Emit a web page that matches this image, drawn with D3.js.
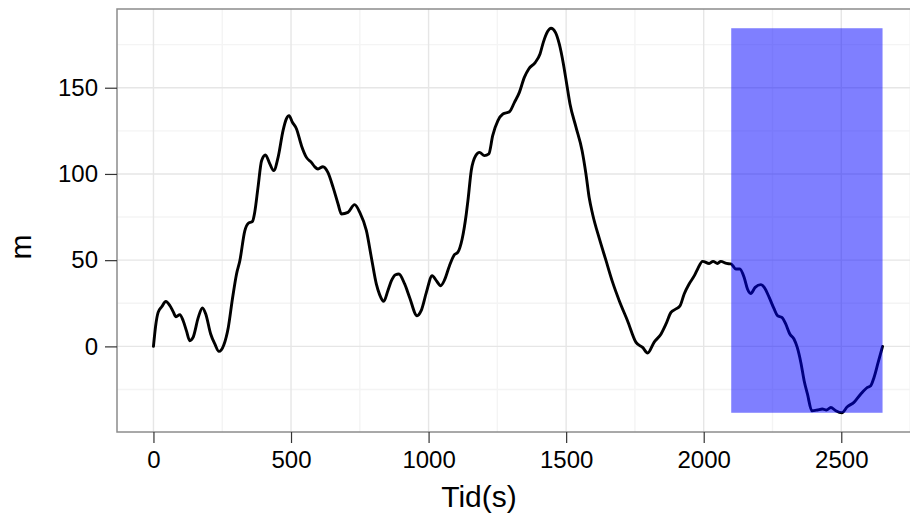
<!DOCTYPE html>
<html>
<head>
<meta charset="utf-8">
<script src="https://cdn.jsdelivr.net/npm/d3@7/dist/d3.min.js"></script>
<style>
  html, body { margin: 0; padding: 0; background: #fff; }
  svg { display: block; font-family: "Liberation Sans", Arial, Helvetica, sans-serif; }
</style>
</head>
<body>
<svg id="chart" width="910" height="518"></svg>
<script>
// Elevation profile: time in seconds vs height in metres
const tid = [
  0, 8, 17, 30, 45, 60, 72, 82, 96, 108, 120, 132, 144, 163, 178, 190, 208, 223, 238, 256,
  272, 287, 302, 314, 332, 344, 360, 368, 380, 393, 407, 423, 437, 453, 471, 483, 493, 505, 520, 538,
  556, 574, 586, 598, 616, 634, 653, 671, 683, 707, 731, 750, 774, 792, 810, 822, 837, 852, 865, 880,
  892, 913, 931, 958, 973, 992, 1013, 1028, 1044, 1058, 1076, 1094, 1106, 1122, 1137, 1143, 1155, 1171, 1185, 1203,
  1219, 1233, 1252, 1270, 1294, 1312, 1330, 1348, 1364, 1388, 1405, 1417, 1433, 1445, 1461, 1475, 1490, 1502, 1514, 1536,
  1558, 1572, 1584, 1596, 1621, 1645, 1669, 1693, 1723, 1754, 1778, 1796, 1820, 1845, 1863, 1881, 1899, 1914, 1929, 1947,
  1966, 1978, 1996, 2020, 2034, 2050, 2062, 2083, 2099, 2117, 2131, 2147, 2159, 2171, 2187, 2208, 2220, 2238, 2256, 2268,
  2284, 2298, 2313, 2328, 2340, 2353, 2365, 2377, 2393, 2413, 2431, 2446, 2462, 2480, 2502, 2522, 2546, 2571, 2595, 2607,
  2619, 2634, 2650
];
const meter = [
  0, 12, 19.7, 23, 26, 23.6, 20, 17.2, 18.4, 14.9, 9, 3.3, 5.2, 16.8, 22.3, 18.8, 7.2, 1.4, -2.9, 1,
  11, 27.5, 42, 49.7, 67, 71.3, 72.5, 77.7, 92.2, 107.7, 111, 105.8, 101.9, 109.6, 125.1, 131.9, 133.8, 130, 126.1, 116.4,
  109.6, 106.7, 104.2, 102.9, 104.2, 100.9, 92.2, 82.6, 76.8, 77.7, 82.2, 77.7, 67.1, 51.6, 36.2, 30, 26.1, 32.3, 38.1, 41.5,
  42, 36.2, 28.4, 17.8, 20.7, 31.3, 41, 38.1, 35.2, 38.5, 46.8, 53.2, 54.5, 62.3, 76.8, 84.5, 101.9, 110.6, 112.5, 110.6,
  111.6, 122.2, 130.9, 134.8, 136.1, 141.5, 147.3, 156, 160.9, 164.7, 169.6, 176.3, 182.7, 184.5, 182.1, 175.4, 163.8, 152.2, 140.6, 127,
  113.5, 100, 86, 76.8, 62.3, 49.7, 37.1, 26.5, 14.9, 2.3, -0.6, -3.8, 2.5, 7.2, 13, 19.7, 21.7, 23.6, 30.4, 36.2,
  41, 44.9, 49.3, 48.1, 49.3, 48.1, 49.3, 48.1, 47.8, 44.9, 44.9, 40, 33.3, 30.7, 34.2, 35.8, 34.2, 28.4, 21.7, 17.8,
  16.8, 13, 7.2, 4.3, -0.6, -9.3, -19.9, -27.6, -37.3, -36.9, -36.3, -36.9, -35.4, -37.3, -38.5, -35, -32.5, -27.6, -23.8, -22.8,
  -18, -9.3, 0
];
// Highlighted time window (seconds)
const highlight = [2100, 2650];
const xTicks = [0, 500, 1000, 1500, 2000, 2500];
const xMinor = [250, 750, 1250, 1750, 2250, 2750];
const yTicks = [0, 50, 100, 150];
const yMinor = [-25, 25, 75, 125, 175];

const data = tid.map((t, i) => ({ t, m: meter[i] }));

const svg = d3.select("#chart");
const panel = { left: 117, right: 919, top: 9, bottom: 432 };

// ggplot-style 5% expansion of the data range
const xExt = d3.extent(tid);
const yExt = d3.extent(meter);
const xPad = (xExt[1] - xExt[0]) * 0.05;
const yPad = (yExt[1] - yExt[0]) * 0.05;

const x = d3.scaleLinear().domain([xExt[0] - xPad, xExt[1] + xPad]).range([panel.left, panel.right]);
const y = d3.scaleLinear().domain([yExt[0] - yPad, yExt[1] + yPad]).range([panel.bottom, panel.top]);

svg.append("defs").append("clipPath").attr("id", "panel-clip")
  .append("rect")
  .attr("x", panel.left).attr("y", panel.top)
  .attr("width", panel.right - panel.left).attr("height", panel.bottom - panel.top);

const g = svg.append("g").attr("clip-path", "url(#panel-clip)");

// panel background
g.append("rect")
  .attr("x", panel.left).attr("y", panel.top)
  .attr("width", panel.right - panel.left).attr("height", panel.bottom - panel.top)
  .attr("fill", "#ffffff");

// minor grid
g.selectAll(".xminor").data(xMinor).join("line")
  .attr("x1", d => x(d)).attr("x2", d => x(d))
  .attr("y1", panel.top).attr("y2", panel.bottom)
  .attr("stroke", "#f4f4f4").attr("stroke-width", 1.4);
g.selectAll(".yminor").data(yMinor).join("line")
  .attr("y1", d => y(d)).attr("y2", d => y(d))
  .attr("x1", panel.left).attr("x2", panel.right)
  .attr("stroke", "#f4f4f4").attr("stroke-width", 1.4);

// major grid
g.selectAll(".xmajor").data(xTicks).join("line")
  .attr("x1", d => x(d)).attr("x2", d => x(d))
  .attr("y1", panel.top).attr("y2", panel.bottom)
  .attr("stroke", "#e6e6e6").attr("stroke-width", 1.4);
g.selectAll(".ymajor").data(yTicks).join("line")
  .attr("y1", d => y(d)).attr("y2", d => y(d))
  .attr("x1", panel.left).attr("x2", panel.right)
  .attr("stroke", "#e6e6e6").attr("stroke-width", 1.4);

// elevation line
const line = d3.line()
  .x(d => x(d.t))
  .y(d => y(d.m))
  .curve(d3.curveMonotoneX);

g.append("path")
  .datum(data)
  .attr("d", line)
  .attr("fill", "none")
  .attr("stroke", "#000")
  .attr("stroke-width", 2.9)
  .attr("stroke-linejoin", "round")
  .attr("stroke-linecap", "round");

// highlighted window spanning the data's height range
g.append("rect")
  .attr("x", x(highlight[0]))
  .attr("width", x(highlight[1]) - x(highlight[0]))
  .attr("y", y(yExt[1]))
  .attr("height", y(yExt[0]) - y(yExt[1]))
  .attr("fill", "#0000ff")
  .attr("fill-opacity", 0.5);

// panel border
svg.append("rect")
  .attr("x", panel.left).attr("y", panel.top)
  .attr("width", panel.right - panel.left).attr("height", panel.bottom - panel.top)
  .attr("fill", "none").attr("stroke", "#8c8c8c").attr("stroke-width", 1.5);

// x axis
const xAxis = d3.axisBottom(x).tickValues(xTicks).tickSize(11).tickPadding(8).tickFormat(d3.format("d"));
const xg = svg.append("g").attr("transform", `translate(0,${panel.bottom})`).call(xAxis);
xg.select(".domain").remove();
xg.selectAll(".tick line").attr("stroke", "#333").attr("stroke-width", 1.2);
xg.selectAll(".tick text").attr("fill", "#000").attr("font-size", 24)
  .attr("font-family", "'Liberation Sans', Arial, sans-serif");

// y axis
const yAxis = d3.axisLeft(y).tickValues(yTicks).tickSize(12).tickPadding(7).tickFormat(d3.format("d"));
const yg = svg.append("g").attr("transform", `translate(${panel.left},0)`).call(yAxis);
yg.select(".domain").remove();
yg.selectAll(".tick line").attr("stroke", "#333").attr("stroke-width", 1.2);
yg.selectAll(".tick text").attr("fill", "#000").attr("font-size", 24)
  .attr("font-family", "'Liberation Sans', Arial, sans-serif");

// axis titles
svg.append("text")
  .attr("x", 479).attr("y", 507)
  .attr("text-anchor", "middle")
  .attr("font-size", 30)
  .attr("fill", "#000")
  .text("Tid(s)");

svg.append("text")
  .attr("transform", "translate(31,247) rotate(-90)")
  .attr("text-anchor", "middle")
  .attr("font-size", 30)
  .attr("fill", "#000")
  .text("m");
</script>
</body>
</html>
